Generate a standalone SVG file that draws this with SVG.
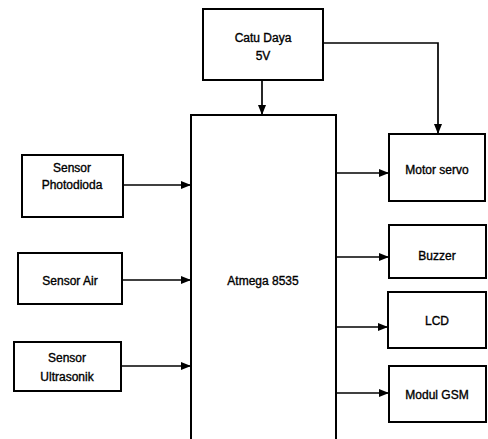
<svg xmlns="http://www.w3.org/2000/svg" width="488" height="439" viewBox="0 0 488 439">
<style>
.box{fill:#fff;stroke:#000;stroke-width:2}
.t{font-family:"Liberation Sans",Arial,sans-serif;font-size:12px;fill:#000;stroke:#000;stroke-width:0.35;text-anchor:middle;dominant-baseline:central}
.c{fill:none;stroke:#000;stroke-width:1.7}
</style>
<defs>
<marker id="ah" markerWidth="10" markerHeight="8" refX="9" refY="4" orient="auto" markerUnits="userSpaceOnUse">
<path d="M0,0 L10,4 L0,8 Z" fill="#000"/>
</marker>
</defs>
<rect width="488" height="439" fill="#fff"/>
<g id="catu-daya"><rect class="box" x="203" y="9" width="120" height="71"/><text class="t" x="263" y="38">Catu Daya</text><text class="t" x="263" y="56">5V</text></g>
<g id="atmega"><rect class="box" x="191" y="115" width="145" height="340"/><text class="t" x="263" y="281">Atmega 8535</text></g>
<g id="sensor-photodioda"><rect class="box" x="22" y="155" width="101" height="62"/><text class="t" x="72" y="168">Sensor</text><text class="t" x="72" y="185">Photodioda</text></g>
<g id="sensor-air"><rect class="box" x="18" y="253" width="104" height="51"/><text class="t" x="70" y="281">Sensor Air</text></g>
<g id="sensor-ultrasonik"><rect class="box" x="14" y="342" width="107" height="49"/><text class="t" x="67" y="358">Sensor</text><text class="t" x="67" y="377">Ultrasonik</text></g>
<g id="motor-servo"><rect class="box" x="389" y="134" width="96" height="67"/><text class="t" x="437" y="170">Motor servo</text></g>
<g id="buzzer"><rect class="box" x="389" y="225" width="97" height="53"/><text class="t" x="437" y="256">Buzzer</text></g>
<g id="lcd"><rect class="box" x="388" y="292" width="98" height="56"/><text class="t" x="437" y="321">LCD</text></g>
<g id="modul-gsm"><rect class="box" x="389" y="366" width="97" height="56"/><text class="t" x="437" y="395">Modul GSM</text></g>
<g id="connectors">
<path class="c" d="M262,80 V114" marker-end="url(#ah)"/>
<path class="c" d="M323,43 H438 V133" marker-end="url(#ah)"/>
<path class="c" d="M123,185 H190" marker-end="url(#ah)"/>
<path class="c" d="M122,280 H190" marker-end="url(#ah)"/>
<path class="c" d="M121,366 H190" marker-end="url(#ah)"/>
<path class="c" d="M336,173 H388" marker-end="url(#ah)"/>
<path class="c" d="M336,257 H388" marker-end="url(#ah)"/>
<path class="c" d="M336,327 H387" marker-end="url(#ah)"/>
<path class="c" d="M336,393 H388" marker-end="url(#ah)"/>
</g>
</svg>
